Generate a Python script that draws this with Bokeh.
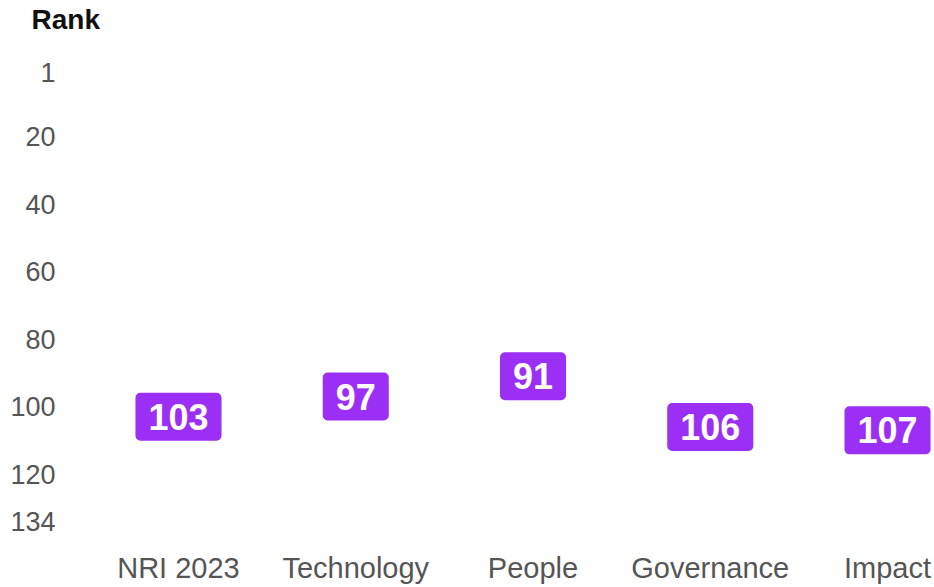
from bokeh.plotting import figure
from bokeh.models import Range1d, FixedTicker, ColumnDataSource
from bokeh.core.properties import value
from bokeh.embed import file_html
from bokeh.resources import INLINE

# ---- data ----
categories = ["NRI 2023", "Technology", "People", "Governance", "Impact"]
ranks = [103, 97, 91, 106, 107]
y_ticks = [1, 20, 40, 60, 80, 100, 120, 134]
y_title = "Rank"

FONT = "Liberation Sans"
PURPLE = "#9b2ff5"
GREY = "#555555"

xs = list(range(len(categories)))
src = ColumnDataSource(dict(x=xs, y=ranks, label=[str(r) for r in ranks]))

p = figure(width=934, height=587, output_backend="svg", toolbar_location=None,
           x_range=Range1d(-0.581, 4.265), y_range=Range1d(134.89, -8.77),
           min_border_left=75, min_border_right=0, min_border_top=39,
           min_border_bottom=63)
p.outline_line_color = None
p.xgrid.visible = False
p.ygrid.visible = False

p.title.text = y_title
p.title.align = "left"
p.title.offset = -44
p.title.standoff = 5
p.title.vertical_align = "top"
p.title.text_font = FONT
p.title.text_font_style = "bold"
p.title.text_font_size = "28px"
p.title.text_color = "#111111"

for ax in (p.xaxis[0], p.yaxis[0]):
    ax.axis_line_color = None
    ax.major_tick_line_color = None
    ax.minor_tick_line_color = None
    ax.major_label_text_font = FONT
    ax.major_label_text_color = GREY

p.xaxis.ticker = FixedTicker(ticks=xs)
p.xaxis.major_label_overrides = {i: c for i, c in zip(xs, categories)}
p.xaxis.major_label_standoff = 21
p.xaxis.major_label_text_font_size = "29px"
p.yaxis.ticker = FixedTicker(ticks=y_ticks)
p.yaxis.major_label_standoff = 14
p.yaxis.major_label_text_font_size = "27px"

p.text(x="x", y="y", text="label", source=src,
       text_color="white", text_font=value(FONT), text_font_style="bold",
       text_font_size="36px", text_align="center", text_baseline="middle",
       background_fill_color=PURPLE, padding=(13, 11), border_radius=5)

open("out.html", "w").write(file_html(p, INLINE))
